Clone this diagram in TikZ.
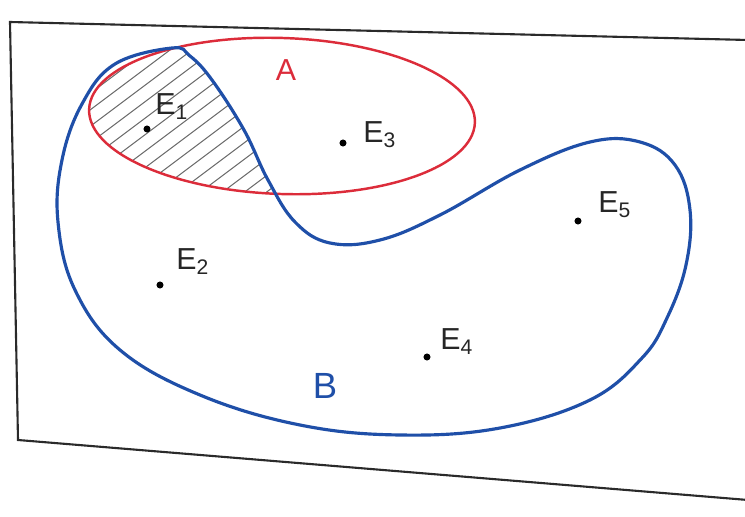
\documentclass[tikz,border=0pt]{standalone}
\usepackage{fontspec}
\setmainfont{Liberation Sans}
\usetikzlibrary{calc}
\definecolor{setred}{HTML}{DC2C3A}
\definecolor{setblue}{HTML}{1F4FA8}
\definecolor{frameline}{HTML}{2A2A2A}
\definecolor{hatchgray}{HTML}{6E6E6E}

\begin{document}
\begin{tikzpicture}[x=0.02cm, y=-0.02cm,
  frame/.style={draw=frameline, line width=1.2pt},
  seta/.style={draw=setred, line width=1.4pt},
  setb/.style={draw=setblue, line width=1.8pt},
  hatch/.style={draw=hatchgray, line width=0.6pt},
  pt/.style={circle, fill=black, inner sep=0pt, minimum size=4pt},
  lab/.style={font=\LARGE, text=black!85, anchor=base west, inner sep=0pt},
]
\useasboundingbox (0,0) rectangle (745,517);

% ── Frame ───────────────────────────────────────────────────────────────
\draw[frame] (748,40) -- (10,22) -- (18,440) -- (748,500);

% ── Shaded part: A and B ────────────────────────────────────────────────
\begin{scope}
  \clip[rotate around={-2:(282,116)}] (282,116) ellipse [x radius=193, y radius=78];
  \clip plot[smooth cycle, tension=0.65] coordinates {
    (172,48) (115,64) (82,104) (62,160) (58,222) (75,290) (120,350)
    (200,395) (300,425) (400,435) (500,428) (590,400) (642,358) (667,318)
    (686,265) (690,210) (675,165) (640,142) (590,142) (520,170) (440,215)
    (380,240) (330,243) (295,222) (268,180) (244,130) (212,80) (190,56)};
  \foreach \k in {0,...,24}
    \draw[hatch] (-220+22*\k,260) -- ++(300,-225);
\end{scope}

% ── Sets ────────────────────────────────────────────────────────────────
\draw[seta, rotate around={-2:(282,116)}] (282,116) ellipse [x radius=193, y radius=78];
\draw[setb] plot[smooth cycle, tension=0.65] coordinates {
    (172,48) (115,64) (82,104) (62,160) (58,222) (75,290) (120,350)
    (200,395) (300,425) (400,435) (500,428) (590,400) (642,358) (667,318)
    (686,265) (690,210) (675,165) (640,142) (590,142) (520,170) (440,215)
    (380,240) (330,243) (295,222) (268,180) (244,130) (212,80) (190,56)};

\node[font=\LARGE, text=setred] (labA) at (286,70) {A};
\node[font=\huge, text=setblue] (labB) at (325,386) {B};

% ── Elements ────────────────────────────────────────────────────────────
\node[pt] (e1) at (147,129) {};
\node[lab] (te1) at ($(e1)+(8,-14)$) {E\textsubscript{1}};
\node[pt] (e2) at (160,285) {};
\node[lab] (te2) at ($(e2)+(16,-15)$) {E\textsubscript{2}};
\node[pt] (e3) at (343,143) {};
\node[lab] (te3) at ($(e3)+(20,0)$) {E\textsubscript{3}};
\node[pt] (e4) at (427,357) {};
\node[lab] (te4) at ($(e4)+(13,-7)$) {E\textsubscript{4}};
\node[pt] (e5) at (578,221) {};
\node[lab] (te5) at ($(e5)+(20,-8)$) {E\textsubscript{5}};

\end{tikzpicture}
\end{document}
